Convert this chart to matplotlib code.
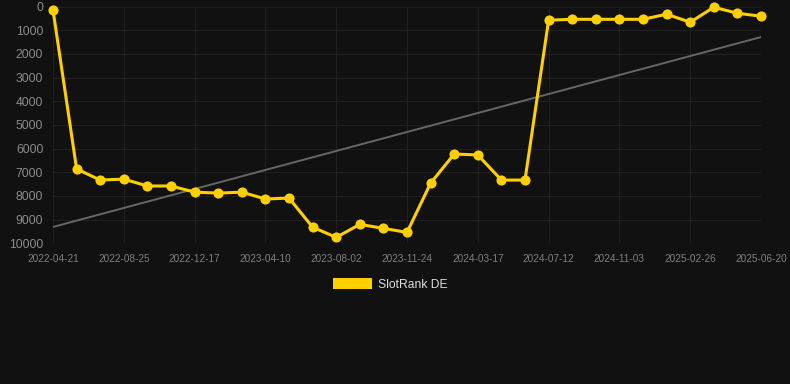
import matplotlib
matplotlib.use("Agg")
import matplotlib.pyplot as plt
import numpy as np
from matplotlib.patches import Rectangle

plt.rcParams["font.family"] = ["Liberation Sans", "DejaVu Sans"]

# ---- data ----
tick_labels = ["2022-04-21", "2022-08-25", "2022-12-17", "2023-04-10", "2023-08-02",
               "2023-11-24", "2024-03-17", "2024-07-12", "2024-11-03", "2025-02-26",
               "2025-06-20"]
rank_values = [150, 6860, 7330, 7290, 7580, 7580, 7840, 7880, 7840, 8130, 8090,
               9320, 9750, 9200, 9370, 9540, 7460, 6230, 6270, 7330, 7330,
               580, 540, 540, 540, 540, 325, 665, 30, 285, 410]
trend_values = [9310, 1290]
series_name = "SlotRank DE"

W, H = 790, 384
fig = plt.figure(figsize=(W / 100, H / 100), dpi=100)
fig.patch.set_facecolor("#111111")

left, right = 53, 761
top, bottom = 6.5, 243.3
ax = fig.add_axes([left / W, 1 - bottom / H, (right - left) / W, (bottom - top) / H])
ax.set_facecolor("#111111")

n = len(rank_values)
x = np.arange(n)
ax.plot(x, rank_values, color="#FFD000", lw=2.2, marker="o", ms=7.3,
        markeredgewidth=0, clip_on=False, zorder=3)
ax.plot([0, n - 1], trend_values, color="#666666", lw=1.4, zorder=2)

ax.set_xlim(0, n - 1)
ax.set_ylim(10000, 0)
tick_pos = np.arange(0, n, 3)
ax.set_xticks(tick_pos)
ax.set_xticklabels(tick_labels, fontsize=7.2, color="#808080")
ax.set_yticks(np.arange(0, 10001, 1000))
ax.set_yticklabels([str(v) for v in range(0, 10001, 1000)], fontsize=8.7, color="#8c8c8c")
ax.tick_params(axis="x", length=0, pad=8)
ax.tick_params(axis="y", length=0, pad=7)
ax.grid(True, color="#202020", lw=0.8)
for s in ax.spines.values():
    s.set_visible(False)

# legend
fig.patches.append(Rectangle((333 / W, 1 - 289 / H), 39 / W, 11 / H,
                             transform=fig.transFigure, facecolor="#FFD000",
                             edgecolor="none"))
fig.text(378 / W, 1 - 284.5 / H, series_name, fontsize=8.7, color="#dddddd",
         va="center", ha="left")

fig.savefig("out.png", dpi=100, facecolor=fig.get_facecolor())
